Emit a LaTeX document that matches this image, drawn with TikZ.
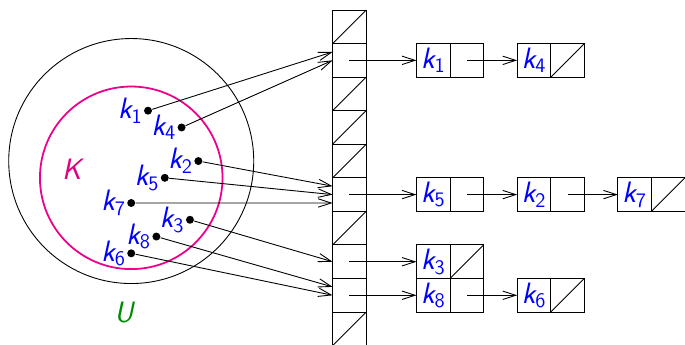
\documentclass[tikz,border=0pt]{standalone}
\usepackage{amsmath}
\usepackage{fontspec}
\usetikzlibrary{positioning,arrows.meta}

\definecolor{keyblue}{RGB}{0,0,255}
\definecolor{setK}{RGB}{225,0,125}
\definecolor{setU}{RGB}{0,140,0}
\newcommand{\kk}[1]{$\textit{k}_{\textup{#1}}$}

\tikzset{
    cell/.style={draw, minimum size=0.8cm, inner sep=0pt, outer sep=0pt, text=keyblue},
    keydot/.style={circle, fill=black, minimum size=1.9mm, inner sep=0pt},
    keytext/.style={text=keyblue, inner sep=0.5pt},
    link/.style={-{Straight Barb[length=3.1mm,width=2mm]}},
}

\begin{document}
\begin{tikzpicture}[x=0.8cm, y=0.8cm, line width=0.6pt, font=\sffamily\fontsize{20}{24}\selectfont]
    \useasboundingbox (-9.91,-9.97) rectangle (10.5,0.298);

    % Sets
    \draw (-6,-4.5) circle (3.65);
    \draw[magenta, line width=1.2pt] (-6,-5) circle (2.72);
    \node[text=setK] (labK) at (-7.73,-4.74) {\textit{K}};
    \node[text=setU] (labU) at (-6.19,-9.01) {\textit{U}};

    % Keys
    \node[keydot, label={[keytext]left:\kk{1}}] (d1) at (-5.5,-3) {};
    \node[keydot, label={[keytext]left:\kk{4}}] (d4) at (-4.5,-3.5) {};
    \node[keydot, label={[keytext]left:\kk{2}}] (d2) at (-4,-4.5) {};
    \node[keydot, label={[keytext]left:\kk{5}}] (d5) at (-5,-5) {};
    \node[keydot, label={[keytext]left:\kk{7}}] (d7) at (-6,-5.75) {};
    \node[keydot, label={[keytext]left:\kk{3}}] (d3) at (-4.25,-6.25) {};
    \node[keydot, label={[keytext]left:\kk{8}}] (d8) at (-5.25,-6.75) {};
    \node[keydot, label={[keytext]left:\kk{6}}] (d6) at (-6,-7.25) {};

    % Table
    \foreach \i in {0,...,9}
        \node[cell] (t\i) at (0.5,-\i-0.5) {};
    \foreach \i in {0,2,3,4,6,9}
        \draw (t\i.south west) -- (t\i.north east);

    % Hashing
    \draw[link] (d1) -- ([yshift=0.2cm]t1.west);
    \draw[link] (d4) -- (t1.west);
    \draw[link] (d2) -- ([yshift=0.2cm]t5.west);
    \draw[link] (d5) -- (t5.west);
    \draw[link] (d7) -- ([yshift=-0.2cm]t5.west);
    \draw[link] (d3) -- (t7.west);
    \draw[link] (d8) -- ([yshift=0.2cm]t8.west);
    \draw[link] (d6) -- (t8.west);

    % Chains
    \node[cell, right=1.2cm of t1] (n1) {\kk{1}};
    \node[cell, right=0cm of n1] (n1p) {};
    \node[cell, right=0.8cm of n1p] (n4) {\kk{4}};
    \node[cell, right=0cm of n4] (n4p) {};

    \node[cell, right=1.2cm of t5] (n5) {\kk{5}};
    \node[cell, right=0cm of n5] (n5p) {};
    \node[cell, right=0.8cm of n5p] (n2) {\kk{2}};
    \node[cell, right=0cm of n2] (n2p) {};
    \node[cell, right=0.8cm of n2p] (n7) {\kk{7}};
    \node[cell, right=0cm of n7] (n7p) {};

    \node[cell, right=1.2cm of t7] (n3) {\kk{3}};
    \node[cell, right=0cm of n3] (n3p) {};

    \node[cell, right=1.2cm of t8] (n8) {\kk{8}};
    \node[cell, right=0cm of n8] (n8p) {};
    \node[cell, right=0.8cm of n8p] (n6) {\kk{6}};
    \node[cell, right=0cm of n6] (n6p) {};

    \draw[link] (t1.center) -- (n1.west);
    \draw[link] (n1p.center) -- (n4.west);
    \draw[link] (t5.center) -- (n5.west);
    \draw[link] (n5p.center) -- (n2.west);
    \draw[link] (n2p.center) -- (n7.west);
    \draw[link] (t7.center) -- (n3.west);
    \draw[link] (t8.center) -- (n8.west);
    \draw[link] (n8p.center) -- (n6.west);

    % Null pointers
    \foreach \n in {n4p,n7p,n3p,n6p}
        \draw (\n.south west) -- (\n.north east);
\end{tikzpicture}
\end{document}
